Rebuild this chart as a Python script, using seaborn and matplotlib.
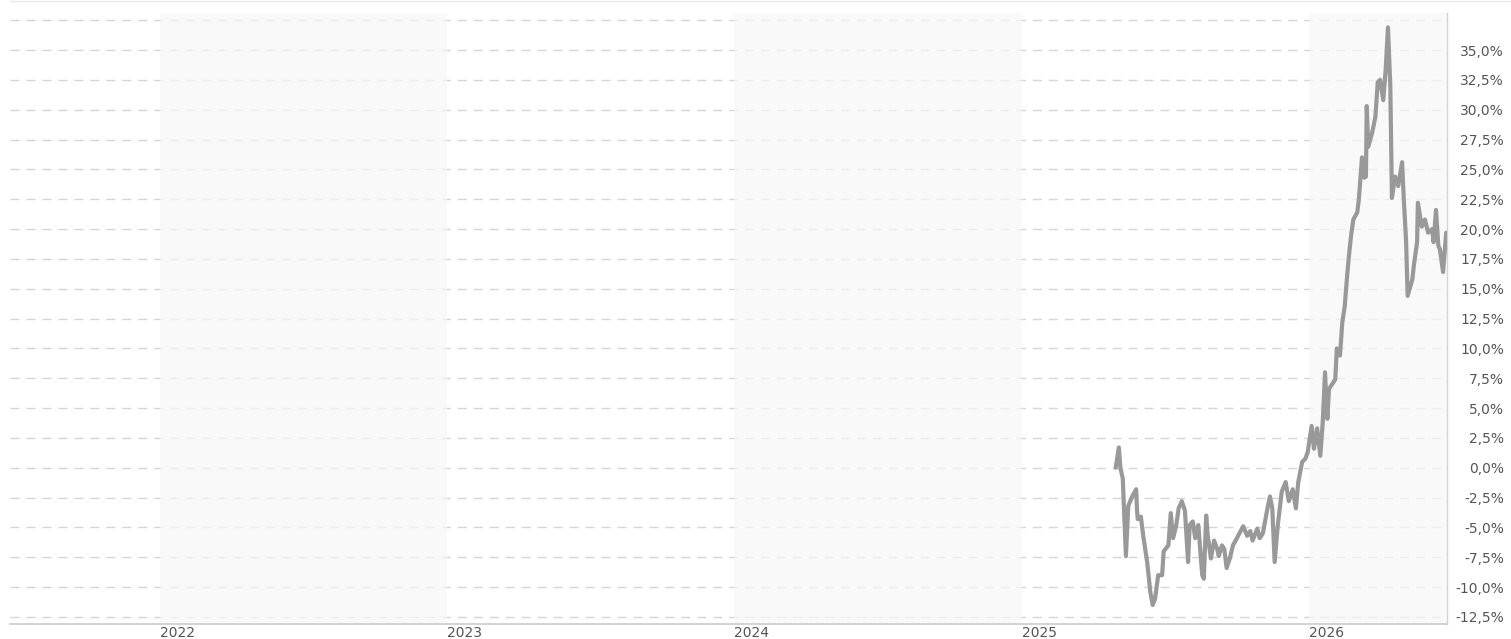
import matplotlib
matplotlib.use("Agg")
import matplotlib.pyplot as plt
from matplotlib.lines import Line2D
from matplotlib.ticker import FuncFormatter
import pandas as pd
import seaborn as sns

# Performance since first quote (percent), sampled dates
dates = [
    "2025-04-30", "2025-05-04", "2025-05-06", "2025-05-09", "2025-05-13", "2025-05-16",
    "2025-05-21", "2025-05-26", "2025-05-27", "2025-05-28", "2025-06-01", "2025-06-04",
    "2025-06-09", "2025-06-13", "2025-06-16", "2025-06-19", "2025-06-23", "2025-06-28",
    "2025-06-30", "2025-07-06", "2025-07-09", "2025-07-12", "2025-07-16", "2025-07-19",
    "2025-07-23", "2025-07-27", "2025-07-31", "2025-08-02", "2025-08-06", "2025-08-09",
    "2025-08-13", "2025-08-18", "2025-08-20", "2025-08-23", "2025-08-25", "2025-08-29",
    "2025-09-02", "2025-09-06", "2025-09-08", "2025-09-12", "2025-09-15", "2025-09-18",
    "2025-09-22", "2025-09-26", "2025-10-01", "2025-10-05", "2025-10-09", "2025-10-14",
    "2025-10-18", "2025-10-21", "2025-10-27", "2025-10-30", "2025-11-03", "2025-11-08",
    "2025-11-12", "2025-11-15", "2025-11-18", "2025-11-22", "2025-11-27", "2025-12-02",
    "2025-12-06", "2025-12-11", "2025-12-15", "2025-12-18", "2025-12-23", "2025-12-27",
    "2025-12-30", "2026-01-04", "2026-01-07", "2026-01-11", "2026-01-15", "2026-01-18",
    "2026-01-21", "2026-01-24", "2026-01-26", "2026-01-30", "2026-02-03", "2026-02-05",
    "2026-02-09", "2026-02-12", "2026-02-15", "2026-02-18", "2026-02-20", "2026-02-23",
    "2026-02-26", "2026-03-03", "2026-03-05", "2026-03-09", "2026-03-12", "2026-03-14",
    "2026-03-15", "2026-03-17", "2026-03-22", "2026-03-26", "2026-03-29", "2026-04-01",
    "2026-04-05", "2026-04-08", "2026-04-11", "2026-04-14", "2026-04-16", "2026-04-20",
    "2026-04-24", "2026-04-29", "2026-05-01", "2026-05-04", "2026-05-06", "2026-05-12",
    "2026-05-14", "2026-05-18", "2026-05-19", "2026-05-24", "2026-05-28", "2026-06-01",
    "2026-06-06", "2026-06-08", "2026-06-11", "2026-06-14", "2026-06-16", "2026-06-20",
    "2026-06-24",
]
performance = [
    0.0, 1.7, 0.0, -0.9, -7.4, -3.2,
    -2.4, -1.8, -3.4, -4.3, -4.1, -5.7,
    -7.9, -10.4, -11.5, -11.0, -9.0, -9.0,
    -7.0, -6.5, -3.8, -5.9, -4.8, -3.4,
    -2.8, -3.6, -7.9, -4.8, -4.5, -5.9,
    -4.8, -9.0, -9.3, -4.0, -5.7, -7.6,
    -6.1, -6.8, -7.4, -6.5, -6.8, -8.4,
    -7.6, -6.5, -5.9, -5.4, -4.9, -5.7,
    -5.3, -6.1, -5.1, -5.9, -5.5, -3.7,
    -2.4, -3.4, -7.9, -4.8, -2.0, -1.2,
    -2.8, -1.8, -3.4, -1.2, 0.5, 0.75,
    1.3, 3.5, 1.6, 3.3, 1.0, 3.7,
    8.0, 4.1, 6.6, 7.0, 7.4, 10.0,
    9.4, 12.2, 13.5, 16.0, 17.5, 19.4,
    20.8, 21.4, 22.5, 26.0, 24.3, 24.4,
    30.3, 26.9, 28.1, 29.4, 32.3, 32.5,
    30.8, 33.3, 36.9, 31.9, 22.6, 24.4,
    23.6, 25.6, 22.6, 19.0, 14.4, 15.8,
    17.0, 18.9, 22.2, 20.2, 20.8, 19.7,
    20.0, 18.9, 21.6, 18.6, 18.3, 16.4,
    19.7,
]

years = [2022, 2023, 2024, 2025, 2026]
shaded_years = [2022, 2024, 2026]
y_ticks = [-12.5, -10.0, -7.5, -5.0, -2.5, 0.0, 2.5, 5.0, 7.5, 10.0, 12.5,
           15.0, 17.5, 20.0, 22.5, 25.0, 27.5, 30.0, 32.5, 35.0, 37.5]
x_start, x_end = "2021-06-25", "2026-06-25"

df = pd.DataFrame({"date": pd.to_datetime(dates), "performance": performance})

sns.set_style("white")
plt.rcParams["font.family"] = ["DejaVu Sans"]

fig = plt.figure(figsize=(15.11, 6.39), dpi=100)
ax = fig.add_axes([10 / 1511, 15 / 639, 1437 / 1511, 611 / 639])

ax.set_xlim(pd.Timestamp(x_start), pd.Timestamp(x_end))
ax.set_ylim(-13.09, 38.10)

# dashed horizontal grid
ax.set_axisbelow(True)
ax.set_yticks(y_ticks)
ax.grid(axis="y", color="#d6d6d6", linestyle=(0, (6.5, 5)), linewidth=1.0)
ax.grid(axis="x", visible=False)

# alternating year bands, drawn over the grid so the dashes fade inside them
for yr in shaded_years:
    end = min(pd.Timestamp(f"{yr + 1}-01-01"), pd.Timestamp(x_end))
    ax.axvspan(pd.Timestamp(f"{yr}-01-01"), end, color="#f7f7f7", alpha=0.7,
               linewidth=0, zorder=1)

sns.lineplot(data=df, x="date", y="performance", ax=ax, color="#999999",
             linewidth=3.0, zorder=3)
ax.set_xlabel("")
ax.set_ylabel("")

# right-hand percent axis
ax.yaxis.tick_right()
ax.yaxis.set_major_formatter(FuncFormatter(
    lambda v, _: "" if v > 36 else f"{v:.1f}%".replace(".", ",")))
ax.tick_params(axis="y", length=0, pad=41, labelsize=10, labelcolor="#555555")
for lbl in ax.get_yticklabels():
    lbl.set_horizontalalignment("right")

# year labels, left-aligned at each year start
ax.set_xticks([pd.Timestamp(f"{y}-01-01") for y in years])
ax.set_xticklabels([str(y) for y in years], ha="left")
ax.tick_params(axis="x", length=0, pad=1.5, labelsize=10, labelcolor="#555555")

for side in ("top", "left"):
    ax.spines[side].set_visible(False)
ax.spines["right"].set_color("#d4d4d4")
ax.spines["right"].set_linewidth(1.0)
ax.spines["bottom"].set_color("#cccccc")
ax.spines["bottom"].set_linewidth(1.2)

# thin frame line along the top of the figure
fig.add_artist(Line2D([10 / 1511, 1.0], [638.5 / 639, 638.5 / 639],
                      color="#e8e8e8", linewidth=1.0))

fig.savefig("out.png", dpi=100)
